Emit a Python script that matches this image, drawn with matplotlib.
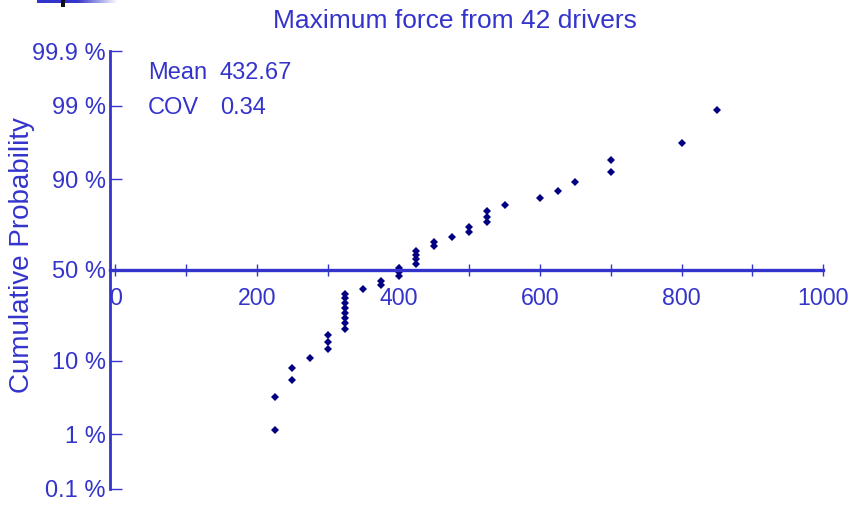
import numpy as np
import matplotlib
matplotlib.use("Agg")
import matplotlib.pyplot as plt
from matplotlib.ticker import FixedLocator, NullFormatter
from matplotlib.colors import LinearSegmentedColormap
from statistics import NormalDist

# ---- data ----
force_values = [225, 250, 275, 300, 325, 350, 375, 400, 425, 450, 475,
                500, 525, 550, 600, 625, 650, 700, 800, 850]
force_counts = [2, 2, 1, 3, 8, 1, 2, 3, 4, 2, 1,
                2, 3, 1, 1, 1, 1, 2, 1, 1]
prob_ticks = [0.001, 0.01, 0.10, 0.50, 0.90, 0.99, 0.999]
prob_labels = ["0.1 %", "1 %", "10 %", "50 %", "90 %", "99 %", "99.9 %"]
x_major = [0, 200, 400, 600, 800, 1000]
x_minor = [100, 300, 500, 700, 900]
title = "Maximum force from 42 drivers"
ylabel = "Cumulative Probability"
stats_names = ["Mean", "COV"]
stats_values = ["432.67", "0.34"]

BLUE = "#3434CC"
NAVY = "#000080"
plt.rcParams['font.family'] = ['Liberation Sans', 'DejaVu Sans']

forces = np.sort(np.repeat(force_values, force_counts))
n = len(forces)
nd = NormalDist()
ranks = np.arange(1, n + 1)
z = np.array([nd.inv_cdf((r - 0.5) / n) for r in ranks])

W, H = 854, 505
fig = plt.figure(figsize=(W / 100, H / 100), dpi=100)

zlim = nd.inv_cdf(0.999)
left_px, right_px = 109.8, 823.2
top_px, bot_px = 51.5, 488.5
ax = fig.add_axes([left_px / W, 1 - bot_px / H,
                   (right_px - left_px) / W, (bot_px - top_px) / H])
ax.set_xlim(-8, 1000)
ax.set_ylim(-zlim, zlim)

ax.plot(forces, z, linestyle="none", marker="D", markersize=3.8,
        color=NAVY, markeredgewidth=0, clip_on=False)

for s in ["top", "right"]:
    ax.spines[s].set_visible(False)
ax.spines["left"].set_color(BLUE)
ax.spines["left"].set_linewidth(2.0)
ax.spines["bottom"].set_position(("data", 0))
ax.spines["bottom"].set_color(BLUE)
ax.spines["bottom"].set_linewidth(2.4)

ax.set_yticks([nd.inv_cdf(p) for p in prob_ticks])
ax.set_yticklabels(prob_labels)
ax.tick_params(axis="y", direction="in", length=8.5, width=1.0,
               colors=BLUE, labelsize=17, pad=3)

ax.xaxis.set_major_locator(FixedLocator(x_major))
ax.xaxis.set_minor_locator(FixedLocator(x_minor))
ax.set_xticklabels([str(v) for v in x_major])
ax.xaxis.set_minor_formatter(NullFormatter())
ax.tick_params(axis="x", which="both", direction="inout", length=9,
               width=1.0, colors=BLUE, labelsize=16.7, pad=8)

fig.text(455 / W, 1 - 21 / H, title, ha="center", va="center",
         fontsize=19, color=BLUE)
fig.text(22 / W, 1 - 255 / H, ylabel, ha="center", va="center",
         rotation=90, fontsize=20, color=BLUE)
for i, (nm, val) in enumerate(zip(stats_names, stats_values)):
    yy = [73, 107.5][i]
    fig.text(148 / W, 1 - yy / H, nm, ha="left", va="center",
             fontsize=17, color=BLUE)
    fig.text(220 / W, 1 - yy / H, val, ha="left", va="center",
             fontsize=17, color=BLUE)

# top-left slide decoration
fig.patches.append(plt.Rectangle((37 / W, 1 - 3 / H), 40 / W, 3 / H,
                                 transform=fig.transFigure, color=BLUE, lw=0))
grad = np.linspace(1, 0, 64)[None, :]
cmap = LinearSegmentedColormap.from_list("g", ["#FFFFFF", BLUE])
gax = fig.add_axes([77 / W, 1 - 3 / H, 40 / W, 3 / H])
gax.imshow(grad, aspect="auto", cmap=cmap, vmin=0, vmax=1)
gax.axis("off")
fig.patches.append(plt.Rectangle((61 / W, 1 - 7 / H), 4 / W, 7 / H,
                                 transform=fig.transFigure, color="#111111", lw=0))

fig.savefig("out.png", dpi=100)
